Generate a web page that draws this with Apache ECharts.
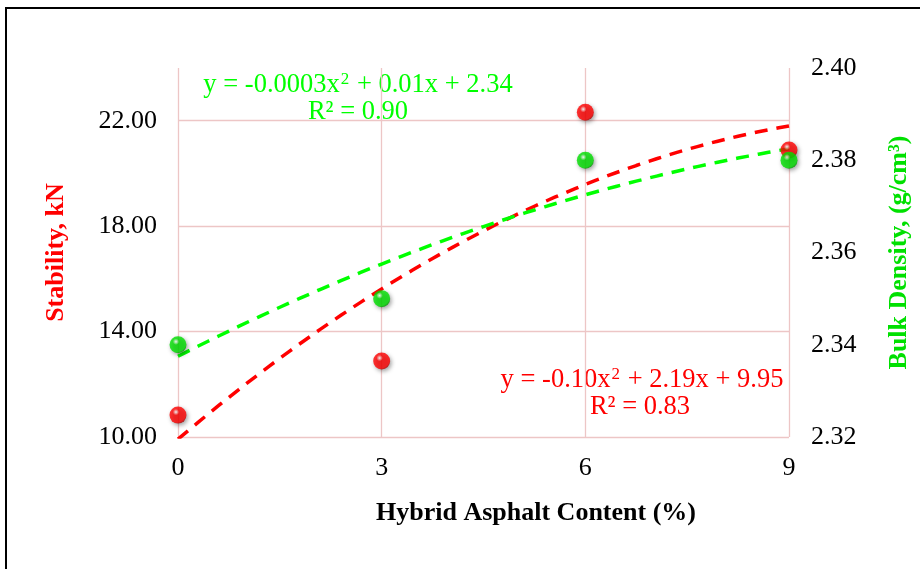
<!DOCTYPE html>
<html>
<head>
<meta charset="utf-8">
<script src="https://cdn.jsdelivr.net/npm/echarts@6/dist/echarts.min.js"></script>
<style>
html,body{margin:0;padding:0;background:#fff;}
#chart{width:920px;height:569px;}
</style>
</head>
<body>
<div id="chart"></div>
<script>
// Data
var content = [0, 3, 6, 9];
var stability = [10.83, 12.88, 22.32, 20.89];
var bulkDensity = [2.34, 2.35, 2.38, 2.38];
var xTicks = [0, 3, 6, 9];

// least-squares quadratic fit (Excel-style polynomial trendline)
function quadFit(xs, ys) {
  var n = xs.length, s = [0,0,0,0,0], t = [0,0,0];
  for (var i = 0; i < n; i++) {
    var p = 1;
    for (var k = 0; k < 5; k++) { s[k] += p; if (k < 3) t[k] += p * ys[i]; p *= xs[i]; }
  }
  var A = [[s[0], s[1], s[2], t[0]], [s[1], s[2], s[3], t[1]], [s[2], s[3], s[4], t[2]]];
  for (var c = 0; c < 3; c++) {
    for (var r = c + 1; r < 3; r++) {
      var f = A[r][c] / A[c][c];
      for (var j = c; j < 4; j++) A[r][j] -= f * A[c][j];
    }
  }
  var b = [0,0,0];
  for (var r2 = 2; r2 >= 0; r2--) {
    var v = A[r2][3];
    for (var j2 = r2 + 1; j2 < 3; j2++) v -= A[r2][j2] * b[j2];
    b[r2] = v / A[r2][r2];
  }
  return b;
}
function trend(xs, ys) {
  var b = quadFit(xs, ys), out = [];
  var x0 = xs[0], x1 = xs[xs.length - 1];
  for (var i = 0; i <= 60; i++) {
    var x = x0 + (x1 - x0) * i / 60;
    out.push([x, b[0] + b[1] * x + b[2] * x * x]);
  }
  return out;
}
function pts(xs, ys) { return xs.map(function (x, i) { return [x, ys[i]]; }); }

function sphere(base, dark) {
  return {
    type: 'radial', x: 0.38, y: 0.32, r: 0.75,
    colorStops: [
      { offset: 0, color: '#ffffff' },
      { offset: 0.25, color: base },
      { offset: 0.8, color: base },
      { offset: 1, color: dark }
    ]
  };
}

var grid = '#EDC6C6';
var font = 'Liberation Serif, Times New Roman, serif';
var FS = 26;
var EQ = 26.5;

var chart = echarts.init(document.getElementById('chart'));
chart.setOption({
  animation: false,
  backgroundColor: '#ffffff',
  grid: { left: 178, right: 130, top: 68, bottom: 132 },
  xAxis: {
    type: 'value', min: 0, max: 9, interval: 3,
    axisLine: { show: false }, axisTick: { show: false },
    axisLabel: { color: '#000', fontFamily: font, fontSize: FS, margin: 18,
      customValues: xTicks },
    splitLine: { show: true, lineStyle: { color: grid, width: 1.3 } }
  },
  yAxis: [{
    type: 'value', min: 10, max: 24, interval: 4,
    name: 'Stability, kN', nameLocation: 'middle', nameRotate: 90, nameGap: 109,
    nameTextStyle: { color: '#FF0000', fontFamily: font, fontSize: FS, fontWeight: 'bold' },
    axisLine: { show: false }, axisTick: { show: false },
    axisLabel: { color: '#000', fontFamily: font, fontSize: FS, margin: 21, showMaxLabel: false,
      formatter: function (v) { return v.toFixed(2); } },
    splitLine: { show: true, showMaxLine: false, lineStyle: { color: grid, width: 1.3 } }
  }, {
    type: 'value', min: 2.32, max: 2.40, interval: 0.02, position: 'right',
    name: 'Bulk Density, (g/cm³)', nameLocation: 'middle', nameRotate: 90, nameGap: 97,
    nameTextStyle: { color: '#00E000', fontFamily: font, fontSize: FS, fontWeight: 'bold' },
    axisLine: { show: false }, axisTick: { show: false },
    axisLabel: { color: '#000', fontFamily: font, fontSize: FS, margin: 22,
      formatter: function (v) { return v.toFixed(2); } },
    splitLine: { show: false }
  }],
  series: [{
    type: 'line', yAxisIndex: 0, data: trend(content, stability), showSymbol: false, smooth: false,
    lineStyle: { color: '#FF0000', width: 3.5, type: [13, 9] }, z: 2, silent: true
  }, {
    type: 'line', yAxisIndex: 1, data: trend(content, bulkDensity), showSymbol: false, smooth: false,
    lineStyle: { color: '#00FF00', width: 3.5, type: [13, 9] }, z: 2, silent: true
  }, {
    type: 'scatter', yAxisIndex: 0, data: pts(content, stability), symbolSize: 17, z: 3,
    itemStyle: { color: sphere('#FF0000', '#8a0000'), shadowBlur: 4, shadowColor: 'rgba(0,0,0,0.45)', shadowOffsetX: 1.5, shadowOffsetY: 2 }
  }, {
    type: 'scatter', yAxisIndex: 1, data: pts(content, bulkDensity), symbolSize: 17, z: 4,
    itemStyle: { color: sphere('#00E000', '#007a00'), shadowBlur: 4, shadowColor: 'rgba(0,0,0,0.45)', shadowOffsetX: 1.5, shadowOffsetY: 2 }
  }],
  graphic: [
    { type: 'rect', shape: { x: 6, y: 8, width: 1000, height: 1000 }, style: { fill: 'none', stroke: '#000', lineWidth: 2 }, z: 0 },
    { type: 'text', x: 536, y: 513, style: { text: 'Hybrid Asphalt Content (%)', fontFamily: font, fontSize: FS, fontWeight: 'bold', fill: '#000', align: 'center', verticalAlign: 'middle' } },
    { type: 'text', x: 358, y: 85, style: {
      text: '{n|y = -0.0003x}{s|2}{n| + 0.01x + 2.34}', align: 'center', verticalAlign: 'middle',
      rich: { n: { fontFamily: font, fontSize: EQ, fill: '#00FF00' }, s: { fontFamily: font, fontSize: 17, fill: '#00FF00', verticalAlign: 'top', padding: [0, 1, 9, 1] } } } },
    { type: 'text', x: 358, y: 112, style: { text: 'R² = 0.90', fontFamily: font, fontSize: EQ, fill: '#00FF00', align: 'center', verticalAlign: 'middle' } },
    { type: 'text', x: 642, y: 380, style: {
      text: '{n|y = -0.10x}{s|2}{n| + 2.19x + 9.95}', align: 'center', verticalAlign: 'middle',
      rich: { n: { fontFamily: font, fontSize: EQ, fill: '#FF0000' }, s: { fontFamily: font, fontSize: 17, fill: '#FF0000', verticalAlign: 'top', padding: [0, 1, 9, 1] } } } },
    { type: 'text', x: 640, y: 407, style: { text: 'R² = 0.83', fontFamily: font, fontSize: EQ, fill: '#FF0000', align: 'center', verticalAlign: 'middle' } }
  ]
});
</script>
</body>
</html>
